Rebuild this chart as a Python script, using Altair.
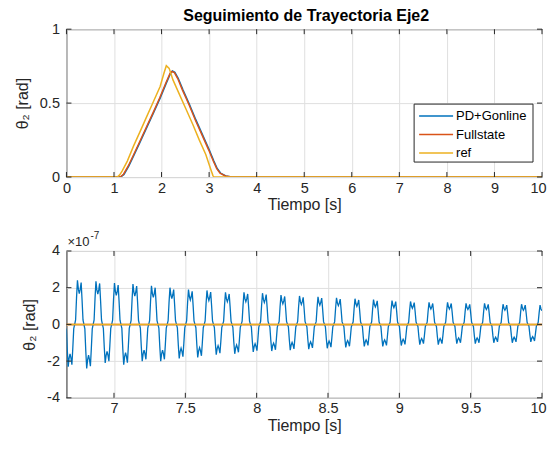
import altair as alt
import pandas as pd

# ---------------- top panel data (rad) ----------------
REF_T = [0, 1.07, 1.12, 1.17, 1.28, 1.41, 1.55, 1.69, 1.83, 1.97, 2.05, 2.10, 2.16, 2.24,
         2.38, 2.52, 2.66, 2.79, 2.93, 3.00, 3.06, 3.08, 3.10, 10]
REF_V = [0, 0, 0.015, 0.04, 0.108, 0.209, 0.309, 0.41, 0.511, 0.612, 0.702, 0.753, 0.735, 0.657,
         0.556, 0.455, 0.354, 0.253, 0.152, 0.085, 0.029, 0.01, 0, 0]

PD_T = [0, 1.14, 1.21, 1.31, 1.41, 1.55, 1.69, 1.83, 1.97, 2.10, 2.19, 2.23, 2.28, 2.35, 2.45,
        2.59, 2.72, 2.86, 3.00, 3.10, 3.17, 3.24, 3.35, 3.48, 10]
PD_V = [0, 0, 0.018, 0.074, 0.141, 0.238, 0.336, 0.433, 0.534, 0.635, 0.702, 0.717, 0.709, 0.668,
        0.59, 0.489, 0.388, 0.287, 0.186, 0.108, 0.058, 0.027, 0.007, 0, 0]

FS_T = [0, 1.13, 1.20, 1.30, 1.40, 1.54, 1.68, 1.82, 1.96, 2.09, 2.18, 2.22, 2.27, 2.34, 2.44,
        2.58, 2.71, 2.85, 2.99, 3.09, 3.16, 3.23, 3.34, 3.47, 10]
FS_V = [0, 0, 0.019, 0.075, 0.142, 0.239, 0.337, 0.434, 0.535, 0.636, 0.702, 0.714, 0.706, 0.666,
        0.588, 0.487, 0.386, 0.285, 0.184, 0.107, 0.057, 0.026, 0.007, 0, 0]

# ---------------- bottom panel data (units of 1e-7 rad) ----------------
ZOOM_T0 = 6.666      # first sample time [s]
ZOOM_DT = 0.006485   # sampling step [s]
PD_ZOOM = [
    -0.23, -1.38, -2.3, -1.84,
    -1.61, -1.84, -2.19, -1.27, -0.23, 0, 0.24, 1.44, 2.4, 1.92, 1.68, 1.92, 2.28, 1.32, 0.24, 0, -0.24, -1.44, -2.4, -1.92,
    -1.68, -1.92, -2.28, -1.32, -0.24, 0, 0.24, 1.41, 2.35, 1.88, 1.65, 1.88, 2.23, 1.29, 0.24, 0, -0.21, -1.26, -2.1, -1.68,
    -1.47, -1.68, -2.0, -1.16, -0.21, 0, 0.23, 1.35, 2.25, 1.8, 1.58, 1.8, 2.14, 1.24, 0.23, 0, -0.22, -1.32, -2.2, -1.76,
    -1.54, -1.76, -2.09, -1.21, -0.22, 0, 0.22, 1.32, 2.2, 1.76, 1.54, 1.76, 2.09, 1.21, 0.22, 0, -0.2, -1.2, -2.0, -1.6,
    -1.4, -1.6, -1.9, -1.1, -0.2, 0, 0.21, 1.26, 2.1, 1.68, 1.47, 1.68, 2.0, 1.16, 0.21, 0, -0.2, -1.2, -2.0, -1.6,
    -1.4, -1.6, -1.9, -1.1, -0.2, 0, 0.2, 1.2, 2.0, 1.6, 1.4, 1.6, 1.9, 1.1, 0.2, 0, -0.19, -1.11, -1.85, -1.48,
    -1.3, -1.48, -1.76, -1.02, -0.19, 0, 0.19, 1.14, 1.9, 1.52, 1.33, 1.52, 1.8, 1.05, 0.19, 0, -0.18, -1.08, -1.8, -1.44,
    -1.26, -1.44, -1.71, -0.99, -0.18, 0, 0.19, 1.11, 1.85, 1.48, 1.3, 1.48, 1.76, 1.02, 0.19, 0, -0.17, -0.99, -1.65, -1.32,
    -1.16, -1.32, -1.57, -0.91, -0.17, 0, 0.18, 1.05, 1.75, 1.4, 1.23, 1.4, 1.66, 0.96, 0.18, 0, -0.16, -0.96, -1.6, -1.28,
    -1.12, -1.28, -1.52, -0.88, -0.16, 0, 0.18, 1.05, 1.75, 1.4, 1.23, 1.4, 1.66, 0.96, 0.18, 0, -0.15, -0.9, -1.5, -1.2,
    -1.05, -1.2, -1.43, -0.83, -0.15, 0, 0.17, 1.02, 1.7, 1.36, 1.19, 1.36, 1.62, 0.94, 0.17, 0, -0.15, -0.87, -1.45, -1.16,
    -1.02, -1.16, -1.38, -0.8, -0.15, 0, 0.16, 0.96, 1.6, 1.28, 1.12, 1.28, 1.52, 0.88, 0.16, 0, -0.14, -0.84, -1.4, -1.12,
    -0.98, -1.12, -1.33, -0.77, -0.14, 0, 0.16, 0.93, 1.55, 1.24, 1.09, 1.24, 1.47, 0.85, 0.16, 0, -0.14, -0.81, -1.35, -1.08,
    -0.95, -1.08, -1.28, -0.74, -0.14, 0, 0.15, 0.9, 1.5, 1.2, 1.05, 1.2, 1.43, 0.83, 0.15, 0, -0.13, -0.78, -1.3, -1.04,
    -0.91, -1.04, -1.24, -0.72, -0.13, 0, 0.15, 0.87, 1.45, 1.16, 1.02, 1.16, 1.38, 0.8, 0.15, 0, -0.13, -0.75, -1.25, -1.0,
    -0.88, -1.0, -1.19, -0.69, -0.13, 0, 0.14, 0.84, 1.4, 1.12, 0.98, 1.12, 1.33, 0.77, 0.14, 0, -0.12, -0.72, -1.2, -0.96,
    -0.84, -0.96, -1.14, -0.66, -0.12, 0, 0.14, 0.81, 1.35, 1.08, 0.95, 1.08, 1.28, 0.74, 0.14, 0, -0.12, -0.72, -1.2, -0.96,
    -0.84, -0.96, -1.14, -0.66, -0.12, 0, 0.13, 0.78, 1.3, 1.04, 0.91, 1.04, 1.24, 0.72, 0.13, 0, -0.12, -0.69, -1.15, -0.92,
    -0.81, -0.92, -1.09, -0.63, -0.12, 0, 0.13, 0.75, 1.25, 1.0, 0.88, 1.0, 1.19, 0.69, 0.13, 0, -0.11, -0.66, -1.1, -0.88,
    -0.77, -0.88, -1.05, -0.61, -0.11, 0, 0.12, 0.72, 1.2, 0.96, 0.84, 0.96, 1.14, 0.66, 0.12, 0, -0.11, -0.66, -1.1, -0.88,
    -0.77, -0.88, -1.05, -0.61, -0.11, 0, 0.12, 0.72, 1.2, 0.96, 0.84, 0.96, 1.14, 0.66, 0.12, 0, -0.11, -0.63, -1.05, -0.84,
    -0.74, -0.84, -1.0, -0.58, -0.11, 0, 0.12, 0.69, 1.15, 0.92, 0.81, 0.92, 1.09, 0.63, 0.12, 0, -0.11, -0.63, -1.05, -0.84,
    -0.74, -0.84, -1.0, -0.58, -0.11, 0, 0.12, 0.69, 1.15, 0.92, 0.81, 0.92, 1.09, 0.63, 0.12, 0, -0.1, -0.6, -1.0, -0.8,
    -0.7, -0.8, -0.95, -0.55, -0.1, 0, 0.11, 0.66, 1.1, 0.88, 0.77, 0.88, 1.05, 0.61, 0.11, 0, -0.1, -0.6, -1.0, -0.8,
    -0.7, -0.8, -0.95, -0.55, -0.1, 0, 0.11, 0.66, 1.1, 0.88, 0.77, 0.88, 1.05, 0.61, 0.11, 0, -0.1, -0.57, -0.95, -0.76,
    -0.67, -0.76, -0.9, -0.52, -0.1, 0, 0.11, 0.63, 1.05, 0.84, 0.74,
]
FS_ZOOM_T = [6.6667, 10]
FS_ZOOM_V = [0, 0]
REF_ZOOM_T = [6.6667, 10]
REF_ZOOM_V = [0, 0]

SERIES = ["PD+Gonline", "Fullstate", "ref"]
COLORS = ["#0072BD", "#D95319", "#EDB120"]

TITLE = "Seguimiento de Trayectoria Eje2"
XTITLE = "Tiempo [s]"
YTITLE = "θ₂  [rad]"
EXP_BASE = "×10"
EXP_POWER = "-7"

X1_TICKS = [0, 1, 2, 3, 4, 5, 6, 7, 8, 9, 10]
Y1_TICKS = [0, 0.5, 1]
X2_TICKS = [7, 7.5, 8, 8.5, 9, 9.5, 10]
Y2_TICKS = [-4, -2, 0, 2, 4]
X1_DOMAIN = [0, 10]
Y1_DOMAIN = [0, 1]
X2_DOMAIN = [6.6667, 10]
Y2_DOMAIN = [-4, 4]

# ---------------- styling ----------------
W = 476
H_TOP, H_BOT = 148, 147
FONT = "Liberation Sans"
AX = "#262626"
GRID = "#dfdfdf"
TICK_LEN = 5
LABEL_EXPR = "datum.value < 0 ? '-' + abs(datum.value) : '' + datum.value"


def axis(ticks, title, label_pad, title_pad, flush):
    kw = dict(values=ticks, title=title, grid=True, gridColor=GRID, gridWidth=1,
              ticks=False, domain=False, labelFont=FONT, labelFontSize=14.5,
              labelColor=AX, labelOverlap=False, labelFlush=flush,
              labelExpr=LABEL_EXPR, labelPadding=label_pad,
              titleFont=FONT, titleFontSize=16, titleFontWeight="normal",
              titleColor=AX, titlePadding=title_pad)
    if flush:
        kw["labelFlushOffset"] = 4
    return alt.Axis(**kw)


def panel(lines, xticks, yticks, xdom, ydom, h):
    X = alt.X("t:Q", scale=alt.Scale(domain=xdom, nice=False, zero=False),
              axis=axis(xticks, XTITLE, 4, 2, True))
    Y = alt.Y("v:Q", scale=alt.Scale(domain=ydom, nice=False, zero=False),
              axis=axis(yticks, YTITLE, 7, 9, False))
    layers = []
    for df, color, sw in lines:
        layers.append(alt.Chart(df).mark_line(color=color, strokeWidth=sw, clip=True).encode(x=X, y=Y))
    xt = pd.DataFrame({"t": xticks})
    yt = pd.DataFrame({"v": yticks})
    layers.append(alt.Chart(xt).mark_rule(color=AX, strokeWidth=1).encode(
        x=X, y=alt.value(h), y2=alt.value(h - TICK_LEN)))
    layers.append(alt.Chart(xt).mark_rule(color=AX, strokeWidth=1).encode(
        x=X, y=alt.value(0), y2=alt.value(TICK_LEN)))
    layers.append(alt.Chart(yt).mark_rule(color=AX, strokeWidth=1).encode(
        y=Y, x=alt.value(0), x2=alt.value(TICK_LEN)))
    layers.append(alt.Chart(yt).mark_rule(color=AX, strokeWidth=1).encode(
        y=Y, x=alt.value(W), x2=alt.value(W - TICK_LEN)))
    return layers


# ---------- top panel ----------
top_lines = [
    (pd.DataFrame({"t": PD_T, "v": PD_V}), COLORS[0], 1.5),
    (pd.DataFrame({"t": FS_T, "v": FS_V}), COLORS[1], 1.5),
    (pd.DataFrame({"t": REF_T, "v": REF_V}), COLORS[2], 1.5),
]
top_layers = panel(top_lines, X1_TICKS, Y1_TICKS, X1_DOMAIN, Y1_DOMAIN, H_TOP)

# title as a text mark above the plot
top_layers.append(alt.Chart(pd.DataFrame({"s": [TITLE]})).mark_text(
    align="center", baseline="alphabetic", font=FONT, fontSize=16, fontWeight="bold",
    color="black").encode(x=alt.value(W / 2 + 2), y=alt.value(-8), text="s:N"))

# manual legend box
one = pd.DataFrame({"a": [0]})
top_layers.append(alt.Chart(one).mark_rect(fill="white", stroke=AX, strokeWidth=1).encode(
    x=alt.value(348), x2=alt.value(467), y=alt.value(75), y2=alt.value(133)))
for i, (name, col) in enumerate(zip(SERIES, COLORS)):
    yy = 87 + 18.5 * i
    top_layers.append(alt.Chart(one).mark_rule(color=col, strokeWidth=1.5).encode(
        x=alt.value(353), x2=alt.value(387), y=alt.value(yy)))
    top_layers.append(alt.Chart(pd.DataFrame({"name": [name]})).mark_text(
        align="left", baseline="middle", font=FONT, fontSize=13, color="black").encode(
        x=alt.value(390), y=alt.value(yy), text="name:N"))

top = alt.layer(*top_layers).properties(width=W, height=H_TOP)

# ---------- bottom panel ----------
zoom_t = [ZOOM_T0 + i * ZOOM_DT for i in range(len(PD_ZOOM))]
bot_lines = [
    (pd.DataFrame({"t": zoom_t, "v": PD_ZOOM}), COLORS[0], 1.3),
    (pd.DataFrame({"t": FS_ZOOM_T, "v": FS_ZOOM_V}), COLORS[1], 1.5),
    (pd.DataFrame({"t": REF_ZOOM_T, "v": REF_ZOOM_V}), COLORS[2], 1.5),
]
bot_layers = panel(bot_lines, X2_TICKS, Y2_TICKS, X2_DOMAIN, Y2_DOMAIN, H_BOT)
bot_layers.append(alt.Chart(pd.DataFrame({"s": [EXP_BASE]})).mark_text(
    align="left", baseline="alphabetic", font=FONT, fontSize=13, color=AX).encode(
    x=alt.value(1), y=alt.value(-5), text="s:N"))
bot_layers.append(alt.Chart(pd.DataFrame({"s": [EXP_POWER]})).mark_text(
    align="left", baseline="alphabetic", font=FONT, fontSize=10, color=AX).encode(
    x=alt.value(24), y=alt.value(-12), text="s:N"))

bottom = alt.layer(*bot_layers).properties(width=W, height=H_BOT)

chart = alt.vconcat(top, bottom, spacing=74, bounds="flush").configure_view(
    stroke=AX, strokeWidth=1).properties(
    padding={"left": 5.5, "top": -1, "right": 0, "bottom": 0}, background="white")

chart.save("out.html", embed_options={"renderer": "svg", "actions": False})
